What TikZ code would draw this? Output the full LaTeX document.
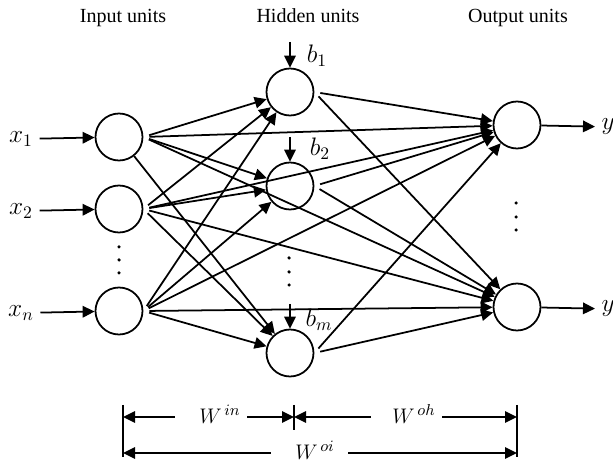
\documentclass[tikz,border=0pt]{standalone}
\usepackage{amsmath}
\usepackage{fontspec}
\setmainfont{Liberation Serif}
\usetikzlibrary{arrows.meta}

\begin{document}
\begin{tikzpicture}[->,>={Triangle[length=0.24cm,width=0.23cm]},line width=1pt,
	unitnode/.style={circle,draw,minimum size=0.94cm,inner sep=0pt},
	titlenode/.style={anchor=base,font=\fontsize{11.4}{13}\selectfont},
	varnode/.style={font=\fontsize{14}{16}\selectfont},
	wnode/.style={font=\fontsize{13}{15}\selectfont},
	link/.style={shorten <=0.12cm}]

	\useasboundingbox (0, 0) rectangle (12.26, 9.26);

	\node [titlenode] (t1) at (2.46, 8.80) {Input units};
	\node [titlenode] (t2) at (6.16, 8.80) {Hidden units};
	\node [titlenode] (t3) at (10.36, 8.80) {Output units};

	\node [unitnode] (i1) at (2.38, 6.52) {};
	\node [unitnode] (i2) at (2.38, 5.08) {};
	\node [unitnode] (i3) at (2.38, 3.04) {};
	\node [unitnode] (h1) at (5.80, 7.42) {};
	\node [unitnode] (h2) at (5.80, 5.54) {};
	\node [unitnode] (hm) at (5.80, 2.20) {};
	\node [unitnode] (o1) at (10.34, 6.76) {};
	\node [unitnode] (o2) at (10.34, 3.12) {};

	\node [varnode] (lx1) at (0.42, 6.48) {$x_1$};
	\node [varnode] (lx2) at (0.42, 5.04) {$x_2$};
	\node [varnode] (lx3) at (0.42, 3.00) {$x_n$};
	\node [varnode, anchor=west] (ly1) at (11.90, 6.72) {$y_1$};
	\node [varnode, anchor=west] (ly2) at (11.90, 3.08) {$y_k$};

	\coordinate (bt1) at (5.80, 8.42);
	\coordinate (bt2) at (5.80, 6.52);
	\coordinate (btm) at (5.80, 3.18);
	\node [varnode] (lb1) at (6.34, 8.14) {$b_1$};
	\node [varnode] (lb2) at (6.40, 6.28) {$b_2$};
	\node [varnode] (lbm) at (6.38, 2.86) {$b_m$};

	% vertical dots
	\foreach \y in {4.32, 4.06, 3.80} \fill (2.38, \y) circle (0.035);
	\foreach \y in {4.10, 3.82, 3.56} \fill (5.78, \y) circle (0.035);
	\foreach \y in {5.20, 4.92, 4.66} \fill (10.32, \y) circle (0.035);

	\draw (lx1) to (i1);
	\draw (lx2) to (i2);
	\draw (lx3) to (i3);
	\draw (o1) to (ly1);
	\draw (o2) to (ly2);
	\draw (bt1) to (h1);
	\draw (bt2) to (h2);
	\draw (btm) to (hm);

	\draw [link] (i1.east) to (h1);
	\draw [link] (i1.east) to (h2);
	\draw (i1) to (hm);
	\draw [link] (i1.east) to (o1);
	\draw [link] (i1.east) to (o2);
	\draw [link] (i2.east) to (h1);
	\draw [link] (i2.east) to (h2);
	\draw [link] (i2.east) to (hm);
	\draw [link] (i2.east) to (o1);
	\draw [link] (i2.east) to (o2);
	\draw [link] (i3.east) to (h1);
	\draw [link] (i3.east) to (h2);
	\draw [link] (i3.east) to (hm);
	\draw [link] (i3.east) to (o1);
	\draw [link] (i3.east) to (o2);
	\draw [link] (h1.east) to (o1);
	\draw [link] (h1.east) to (o2);
	\draw [link] (h2.east) to (o1);
	\draw [link] (h2.east) to (o2);
	\draw [link] (hm.east) to (o1);
	\draw [link] (hm.east) to (o2);

	% weight spans
	\draw [-] (2.46, 1.16) -- (2.46, 0.12);
	\draw [-] (5.88, 1.16) -- (5.88, 0.66);
	\draw [-] (10.34, 1.16) -- (10.34, 0.12);
	\coordinate (ta) at (2.46, 0.92);
	\coordinate (tb) at (5.88, 0.92);
	\coordinate (tc) at (10.34, 0.92);
	\coordinate (td) at (2.46, 0.20);
	\coordinate (te) at (10.34, 0.20);
	\node [wnode] (win) at (4.40, 0.98) {$W^{\,in}$};
	\node [wnode] (woh) at (8.28, 0.98) {$W^{\,oh}$};
	\node [wnode] (woi) at (6.30, 0.26) {$W^{\,oi}$};
	\draw [shorten <=0.36cm] (win.west |- ta) to (ta);
	\draw (win.east |- ta) to (tb);
	\draw [shorten <=0.30cm] (woh.west |- tb) to (tb);
	\draw (woh.east |- tc) to (tc);
	\draw [shorten <=0.36cm] (woi.west |- td) to (td);
	\draw [shorten <=0.14cm] (woi.east |- te) to (te);
\end{tikzpicture}
\end{document}
